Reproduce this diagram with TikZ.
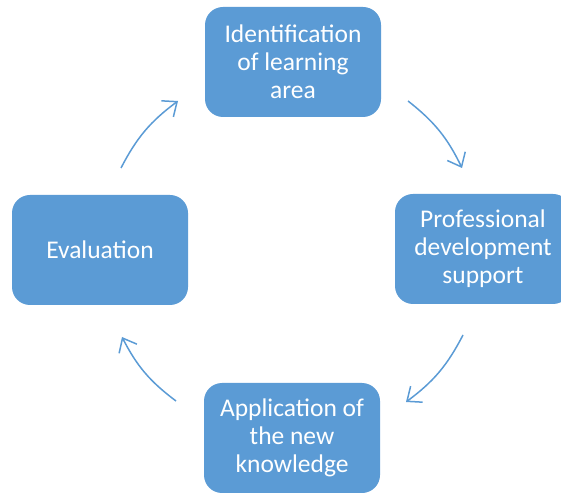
\documentclass[tikz,border=0pt]{standalone}
\usepackage{fontspec}
\setmainfont{Carlito}
\usetikzlibrary{arrows.meta}
\definecolor{boxblue}{HTML}{5B9BD5}
\begin{document}
\begin{tikzpicture}[x=1pt,y=1pt,
    stage/.style={fill=boxblue, rounded corners=18pt, minimum width=176pt,
      minimum height=110pt, inner sep=0pt, text=white, align=center,
      font=\fontsize{25.5}{28}\selectfont},
    cyc/.style={draw=boxblue, line width=1.5pt,
      -{Straight Barb[length=12pt,width=20pt]}}]
  \useasboundingbox (0,0) rectangle (561,492);
  \node[stage] (ident) at (293,430) {Identification\\of learning\\area};
  \node[stage] (prof) at (483,243) {Professional\\development\\support};
  \node[stage] (appl) at (292,54) {Application of\\the new\\knowledge};
  \node[stage] (eval) at (100,242) {Evaluation};
  % arrow ends round the cycle
  \coordinate (e1) at (121,324);
  \coordinate (i0) at (178,391);
  \coordinate (i1) at (408,391);
  \coordinate (p0) at (462,324);
  \coordinate (p1) at (463,157);
  \coordinate (a0) at (406,90);
  \coordinate (a1) at (176,91);
  \coordinate (e0) at (122,155);
  \begin{scope}
    \draw[cyc] (e1) to[bend left=13] (i0);
    \draw[cyc] (i1) to[bend left=13] (p0);
    \draw[cyc] (p1) to[bend left=13] (a0);
    \draw[cyc] (a1) to[bend left=13] (e0);
  \end{scope}
\end{tikzpicture}
\end{document}
